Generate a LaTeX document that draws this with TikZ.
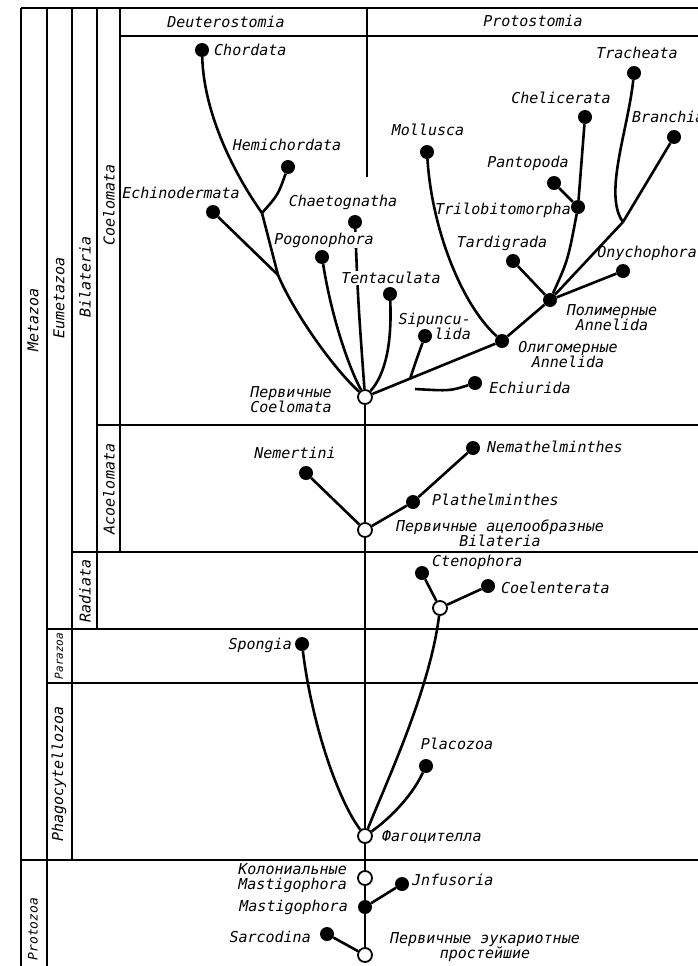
\documentclass[tikz,border=0pt]{standalone}
\usepackage{fontspec}
\newfontfamily\drafting{DejaVu Sans Mono}
\tikzset{
  branch/.style={line width=2.6pt},
  border/.style={line width=1.6pt},
  taxon/.style={circle, fill=black, inner sep=0pt, minimum size=14pt},
  ancestor/.style={circle, draw, fill=white, line width=1.8pt, inner sep=0pt, minimum size=14pt},
  lbl/.style={font=\drafting\itshape\fontsize{15}{15}\selectfont, inner sep=0pt},
  ranklbl/.style={lbl, rotate=90},
}
\begin{document}
\begin{tikzpicture}[x=1pt, y=-1pt]
    \useasboundingbox (0,0) rectangle (698,966);

    % frame of the table
    \draw[border, line width=2.4pt] (21,8) -- (698,8);
    \draw[border] (21,8) -- (21,966);
    \draw[border] (47,8) -- (47,966);
    \draw[border] (72,8) -- (72,860);
    \draw[border] (97,8) -- (97,629);
    \draw[border] (120,8) -- (120,552);
    \draw[border] (120,36) -- (698,36);
    \draw[border] (97,425) -- (698,425);
    \draw[border] (72,552) -- (698,552);
    \draw[border] (47,629) -- (698,629);
    \draw[border] (47,683) -- (698,683);
    \draw[border] (21,860) -- (698,860);
    \draw[border] (367,8) -- (367,177);

    % ranks
    \node[ranklbl] (metazoa) at (33,320) {Metazoa};
    \node[ranklbl, font=\drafting\itshape\fontsize{13}{13}\selectfont] (protozoa) at (33,929) {Protozoa};
    \node[ranklbl] (eumetazoa) at (59,298) {Eumetazoa};
    \node[ranklbl, font=\drafting\itshape\fontsize{11}{11}\selectfont] (parazoa) at (59,656) {Parazoa};
    \node[ranklbl] (phagocytellozoa) at (59,774) {Phagocytellozoa};
    \node[ranklbl] (bilateria) at (85,277) {Bilateria};
    \node[ranklbl] (radiata-r) at (85,591) {Radiata};
    \node[ranklbl] (coelomata-r) at (109,205) {Coelomata};
    \node[ranklbl] (acoelomata-r) at (109,489) {Acoelomata};
    \node[lbl] (deutero) at (226,22) {Deuterostomia};
    \node[lbl] (proto) at (533,21) {Protostomia};

    % taxa
    \node[taxon] (chordata) at (202,50) {};
    \node[taxon] (hemichordata) at (288,167) {};
    \node[taxon] (echinodermata) at (213,212) {};
    \node[taxon] (chaetognatha) at (355,222) {};
    \node[taxon] (pogonophora) at (322,257) {};
    \node[taxon] (tentaculata) at (390,294) {};
    \node[taxon] (sipunculida) at (425,336) {};
    \node[taxon] (echiurida) at (475,383) {};
    \node[taxon] (oligomera) at (502,341) {};
    \node[taxon] (mollusca) at (427,152) {};
    \node[taxon] (polymera) at (550,300) {};
    \node[taxon] (tardigrada) at (513,261) {};
    \node[taxon] (onychophora) at (623,271) {};
    \node[taxon] (trilobitomorpha) at (578,207) {};
    \node[taxon] (pantopoda) at (554,183) {};
    \node[taxon] (chelicerata) at (585,117) {};
    \node[taxon] (tracheata) at (634,73) {};
    \node[taxon] (branchiata) at (674,137) {};
    \node[ancestor] (coelomata) at (365,397) {};
    \node[taxon] (nemertini) at (306,473) {};
    \node[taxon] (nemathelminthes) at (473,448) {};
    \node[taxon] (plathelminthes) at (413,502) {};
    \node[ancestor] (acoelomata) at (365,530) {};
    \node[taxon] (ctenophora) at (422,573) {};
    \node[taxon] (coelenterata) at (488,586) {};
    \node[ancestor] (radiata) at (440,608) {};
    \node[taxon] (spongia) at (302,644) {};
    \node[taxon] (placozoa) at (426,766) {};
    \node[ancestor] (phagocytella) at (365,836) {};
    \node[ancestor] (colonial) at (365,878) {};
    \node[taxon] (infusoria) at (402,884) {};
    \node[taxon] (mastigophora) at (365,907) {};
    \node[taxon] (sarcodina) at (327,934) {};
    \node[ancestor] (eukaryota) at (365,955) {};

    \coordinate (cfork) at (262,213);
    \coordinate (efork) at (278,275);
    \coordinate (sfork) at (410,379);
    \coordinate (echend) at (415,389);
    \coordinate (afork) at (623,222);

    % Coelomata
    \draw[branch] (chordata) .. controls (204,115) and (235,175) .. (cfork);
    \draw[branch] (hemichordata) .. controls (278,195) .. (cfork);
    \draw[branch] (cfork) -- (efork);
    \draw[branch] (echinodermata) -- (efork);
    \draw[branch] (efork) .. controls (295,315) and (335,370) .. (coelomata);
    \draw[branch] (pogonophora) .. controls (332,320) and (350,370) .. (coelomata);
    \draw[branch] (chaetognatha) .. controls (358,300) .. (coelomata);
    \draw[branch] (tentaculata) .. controls (392,345) and (385,375) .. (coelomata);
    \draw[branch] (coelomata) -- (oligomera);
    \draw[branch] (sipunculida) .. controls (417,358) .. (sfork);
    \draw[branch] (echiurida) .. controls (450,391) .. (echend);
    \draw[branch] (mollusca) .. controls (432,230) and (462,305) .. (oligomera);
    \draw[branch] (oligomera) -- (polymera);
    \draw[branch] (tardigrada) -- (polymera);
    \draw[branch] (onychophora) -- (polymera);
    \draw[branch] (chelicerata) -- (trilobitomorpha);
    \draw[branch] (pantopoda) -- (trilobitomorpha);
    \draw[branch] (trilobitomorpha) .. controls (568,260) .. (polymera);
    \draw[branch] (tracheata) .. controls (628,130) and (603,195) .. (afork);
    \draw[branch] (branchiata) -- (afork);
    \draw[branch] (afork) -- (polymera);

    % Acoelomata, Radiata, Parazoa, Phagocytellozoa
    \draw[branch] (coelomata) -- (acoelomata);
    \draw[branch] (nemertini) -- (acoelomata);
    \draw[branch] (acoelomata) -- (plathelminthes);
    \draw[branch] (plathelminthes) -- (nemathelminthes);
    \draw[branch] (acoelomata) -- (phagocytella);
    \draw[branch] (ctenophora) -- (radiata);
    \draw[branch] (coelenterata) -- (radiata);
    \draw[branch] (radiata) .. controls (430,690) and (385,785) .. (phagocytella);
    \draw[branch] (spongia) .. controls (312,725) and (338,800) .. (phagocytella);
    \draw[branch] (placozoa) .. controls (410,800) and (385,822) .. (phagocytella);

    % Protozoa
    \draw[branch] (phagocytella) -- (colonial);
    \draw[branch] (colonial) -- (mastigophora);
    \draw[branch] (infusoria) -- (mastigophora);
    \draw[branch] (mastigophora) -- (eukaryota);
    \draw[branch] (sarcodina) -- (eukaryota);

    % labels
    \node[lbl, anchor=west] (chordata-t) at (214,50) {Chordata};
    \node[lbl] (hemichordata-t) at (287,145) {Hemichordata};
    \node[lbl] (echinodermata-t) at (181,193) {Echinodermata};
    \node[lbl] (chaetognatha-t) at (343,202) {Chaetognatha};
    \node[lbl, fill=white, inner sep=1pt] (pogonophora-t) at (324,240) {Pogonophora};
    \node[lbl, fill=white, inner sep=1pt] (tentaculata-t) at (391,278) {Tentaculata};
    \node[lbl, align=right, anchor=east] (sipunculida-t) at (471,326) {Sipuncu-\\lida};
    \node[lbl] (echiurida-t) at (530,388) {Echiurida};
    \node[lbl, align=center] (oligomera-t) at (568,355) {Олигомерные\\Annelida};
    \node[lbl] (mollusca-t) at (428,130) {Mollusca};
    \node[lbl, align=center] (polymera-t) at (612,318) {Полимерные\\Annelida};
    \node[lbl] (tardigrada-t) at (502,243) {Tardigrada};
    \node[lbl, anchor=east] (onychophora-t) at (697,253) {Onychophora};
    \node[lbl, anchor=east] (trilobitomorpha-t) at (571,210) {Trilobitomorpha};
    \node[lbl] (pantopoda-t) at (528,163) {Pantopoda};
    \node[lbl] (chelicerata-t) at (561,98) {Chelicerata};
    \node[lbl] (tracheata-t) at (637,53) {Tracheata};
    \node[lbl, anchor=west] (branchiata-t) at (632,117) {Branchiata};
    \node[lbl, align=center] (coelomata-t) at (291,400) {Первичные\\Coelomata};
    \node[lbl] (nemertini-t) at (295,453) {Nemertini};
    \node[lbl, anchor=west] (nemathelminthes-t) at (487,447) {Nemathelminthes};
    \node[lbl, anchor=west] (plathelminthes-t) at (432,500) {Plathelminthes};
    \node[lbl, align=center] (acoelomata-t) at (500,533) {Первичные ацелообразные\\Bilateria};
    \node[lbl, anchor=west] (ctenophora-t) at (432,562) {Ctenophora};
    \node[lbl, anchor=west] (coelenterata-t) at (501,588) {Coelenterata};
    \node[lbl, anchor=east] (spongia-t) at (292,645) {Spongia};
    \node[lbl] (placozoa-t) at (457,744) {Placozoa};
    \node[lbl, anchor=west] (phagocytella-t) at (382,837) {Фагоцителла};
    \node[lbl, align=right, anchor=east] (colonial-t) at (347,878) {Колониальные\\Mastigophora};
    \node[lbl, anchor=west] (infusoria-t) at (412,880) {Jnfusoria};
    \node[lbl, anchor=east] (mastigophora-t) at (348,907) {Mastigophora};
    \node[lbl, anchor=east] (sarcodina-t) at (311,937) {Sarcodina};
    \node[lbl, align=center] (eukaryota-t) at (485,947) {Первичные эукариотные\\простейшие};
\end{tikzpicture}
\end{document}
